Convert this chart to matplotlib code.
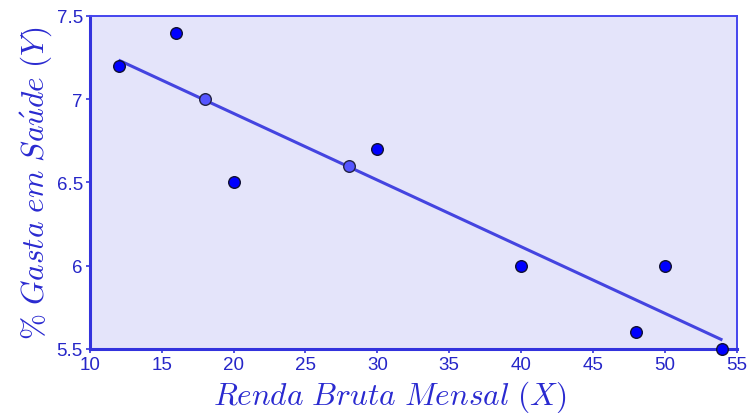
import numpy as np
import matplotlib
matplotlib.use("Agg")
import matplotlib.pyplot as plt

x_vals = [12, 16, 18, 20, 28, 30, 40, 48, 50, 54]
y_vals = [7.2, 7.4, 7.0, 6.5, 6.6, 6.7, 6.0, 5.6, 6.0, 5.5]
x_ticks = [10, 15, 20, 25, 30, 35, 40, 45, 50, 55]
y_ticks = [5.5, 6, 6.5, 7, 7.5]
y_tick_labels = ["5.5", "6", "6.5", "7", "7.5"]
on_line = [False, False, True, False, True, False, False, False, False, False]

plt.rcParams['mathtext.fontset'] = 'cm'
plt.rcParams['font.family'] = ['Liberation Sans', 'DejaVu Sans']

fig = plt.figure(figsize=(7.48, 4.14), dpi=100)
ax = fig.add_axes([0.120, 0.155, 0.865, 0.804])
ax.set_facecolor('#e4e4fa')

slope, intercept = np.polyfit(x_vals, y_vals, 1)
xl = np.array([min(x_vals), max(x_vals)])
ax.plot(xl, slope * xl + intercept, color='#4444e0', lw=2.2, zorder=2, solid_capstyle='butt')

xa = np.array(x_vals); ya = np.array(y_vals); m = np.array(on_line)
ax.scatter(xa[~m], ya[~m], s=70, color='#0000ff', edgecolor='#111133', linewidth=1.0, zorder=3, clip_on=False)
ax.scatter(xa[m], ya[m], s=70, color='#5555ff', edgecolor='#222244', linewidth=1.0, zorder=3, clip_on=False)

ax.set_xlim(10, 55)
ax.set_ylim(5.5, 7.5)
ax.set_xticks(x_ticks)
ax.set_xticklabels([str(t) for t in x_ticks])
ax.set_yticks(y_ticks)
ax.set_yticklabels(y_tick_labels)

tc = '#2626c8'
ax.tick_params(axis='both', colors='#3333dd', labelcolor=tc, labelsize=13.5, direction='out', length=3, width=1.2)
ax.tick_params(axis='x', pad=2)
ax.tick_params(axis='y', pad=2)
for s in ['left', 'bottom']:
    ax.spines[s].set_color('#3333dd')
    ax.spines[s].set_linewidth(2.2)
for s in ['top', 'right']:
    ax.spines[s].set_color('#4444ee')
    ax.spines[s].set_linewidth(1.4)

lc = '#2a2ad0'
ax.set_xlabel(r'$Renda\ Bruta\ Mensal\ (X)$', fontsize=22.5, color=lc)
ax.xaxis.set_label_coords(0.464, -0.09)
ax.set_ylabel(r'$\%\ Gasta\ em\ Sa\acute{u}de\ (Y)$', fontsize=22.5, color=lc, labelpad=2)

fig.savefig('out.png', dpi=100)
